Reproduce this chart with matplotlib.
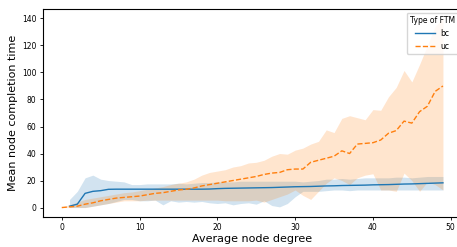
import numpy as np
import matplotlib
matplotlib.use("Agg")
import matplotlib.pyplot as plt

# average node degree
x_uc = list(range(0, 50))
x_bc = list(range(1, 50))

# uc: mean and band
uc_mean = [0, 0.5, 1, 2.5, 3.5, 5, 6, 7, 7.5, 8,
           8.5, 9.5, 10.5, 11, 12, 13, 13.5, 14.5, 16, 17,
           18, 19, 20, 21, 22, 23, 24.5, 25.5, 26, 28,
           28.5, 28.5, 33.5, 35, 36.5, 38, 42, 40, 47, 47.5,
           48, 50, 55, 57, 64, 62.5, 71, 75, 86, 90]
uc_upper = [0.5, 2, 4, 6, 7, 8, 9, 10, 11, 11.5,
            12.5, 13.5, 14.5, 15.5, 17, 18, 19, 21, 24, 26,
            27, 28, 30, 31, 33, 33.5, 35, 38, 40, 39.5,
            42.5, 44, 47, 49, 57.5, 55.5, 66, 68, 66.5, 65,
            72.5, 72, 82, 89, 101.5, 93, 106, 120, 134, 140]
uc_lower = [0, 0, 0, 0, 1, 2, 3, 4, 5, 5,
            5, 5.5, 5.5, 5.5, 5.5, 5.5, 5.5, 5.5, 5.5, 5.5,
            5.5, 5, 5, 5, 5, 5.5, 4, 6, 8, 10,
            13, 9, 6, 12, 18, 22, 20, 17, 22, 24,
            25, 13, 13, 12, 25.5, 20, 12, 19, 17, 13]

# bc: mean and band
bc_mean = [1, 2.5, 10.5, 12, 12.5, 13.5, 13.6, 13.6, 13.6,
           13.6, 13.6, 13.6, 13.6, 13.6, 13.6, 13.6, 13.6, 13.6, 13.7,
           14, 14.2, 14.3, 14.4, 14.5, 14.6, 14.7, 14.8, 15, 15.2,
           15.4, 15.5, 15.6, 15.8, 16, 16.1, 16.3, 16.4, 16.5, 16.6,
           16.8, 16.9, 17, 17.2, 17.4, 17.5, 17.7, 17.9, 18.1, 18.3]
bc_upper = [6, 12, 22, 24, 21, 20, 19.5, 19, 17,
            17, 17.5, 17.5, 17.5, 17.5, 18, 17.5, 18, 18.5, 18.5,
            19, 19, 19, 19.5, 19.5, 19.5, 19.5, 19.5, 19.5, 19.5,
            19.5, 19, 19.5, 20, 21, 21, 21.5, 21, 21.5, 22,
            22, 22, 22, 22.5, 22.5, 22, 22.5, 23, 23, 23]
bc_lower = [0, 0, 0, 1, 2, 3, 4.5, 6, 6,
            5, 5, 5.5, 2, 5, 4, 4.5, 4, 4.5, 3.5,
            3, 3.5, 2, 3, 3.5, 2.5, 5, 1.5, 0.5, 3,
            8, 12, 12, 12, 12.5, 13, 13, 12.5, 13, 13,
            13, 13, 13, 13, 13, 13, 13, 13, 13, 13]

fig = plt.figure(figsize=(4.57, 2.47), dpi=100)
ax = fig.add_axes([42.7 / 457, 30 / 247, (462 - 42.7) / 457, (217 - 9) / 247])

ax.fill_between(x_bc, bc_lower, bc_upper, color="tab:blue", alpha=0.2, linewidth=0)
ax.fill_between(x_uc, uc_lower, uc_upper, color="tab:orange", alpha=0.2, linewidth=0)
ax.plot(x_bc, bc_mean, color="tab:blue", lw=1, label="bc")
ax.plot(x_uc, uc_mean, color="tab:orange", lw=1, ls="--", label="uc")

ax.set_xlim(-2.45, 51.45)
ax.set_ylim(-7, 147)
ax.set_xlabel("Average node degree", fontsize=8, labelpad=1)
ax.set_ylabel("Mean node completion time", fontsize=8, labelpad=3)
ax.tick_params(labelsize=5.5, length=2.5, width=0.6, pad=2)
for s in ax.spines.values():
    s.set_linewidth(0.8)

leg = ax.legend(title="Type of FTM", loc="upper right", fontsize=5.5,
                title_fontsize=5.5, handlelength=2.5)

fig.savefig("out.png", dpi=100)
